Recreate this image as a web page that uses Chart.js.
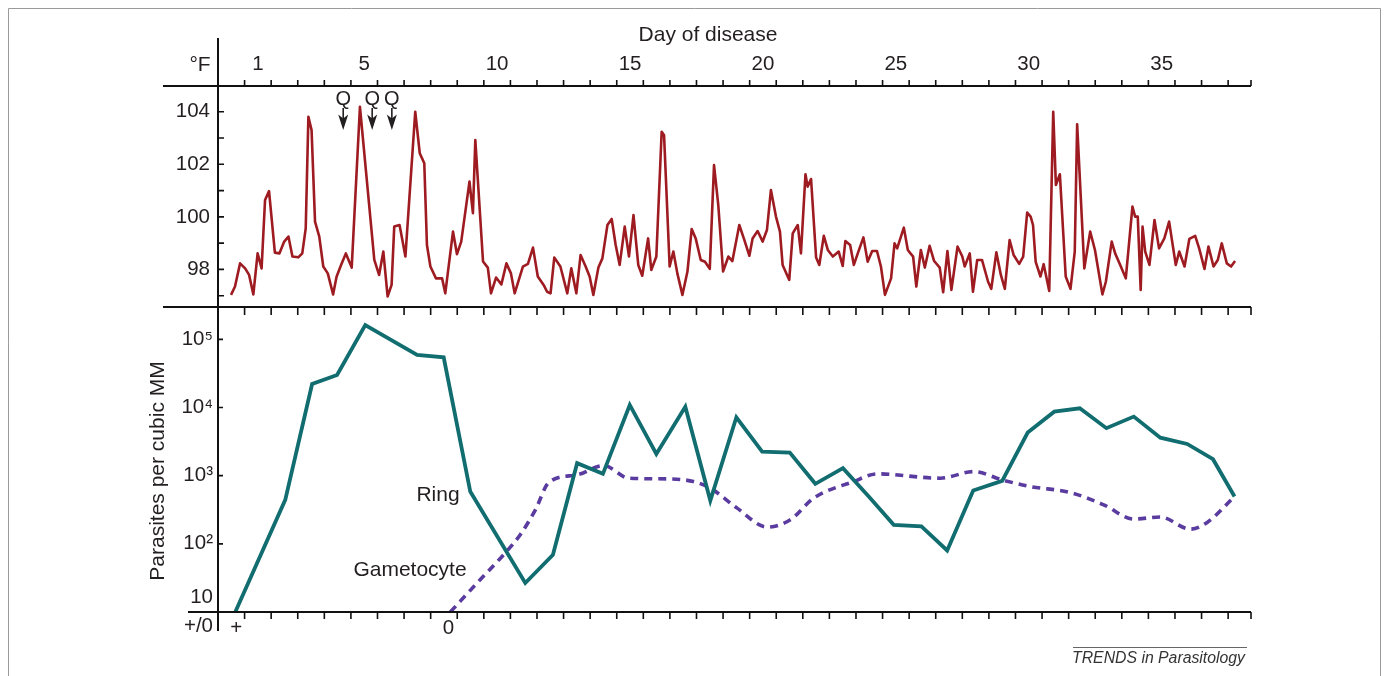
<!DOCTYPE html>
<html>
<head>
<meta charset="utf-8">
<script src="https://cdn.jsdelivr.net/npm/chart.js@4.4.1/dist/chart.umd.min.js"></script>
<style>
  html, body { margin: 0; padding: 0; background: #fff; }
  canvas { display: block; }
</style>
</head>
<body>
<canvas id="chart" width="1389" height="676"></canvas>
<script>
// x values are in "day units" from the y axis: day d is centred on d + 0.5
const dayLabels = [1, 5, 10, 15, 20, 25, 30, 35];
const tempTicks = [98, 100, 102, 104];
const parasiteTicks = [10, 100, 1000, 10000, 100000];
const parasiteTickLabels = [["10", "+/0"], "10²", "10³", "10⁴", "10⁵"];
const quinineDays = [4.71, 5.8, 6.54];

const tempDays = [
  0.49, 0.64, 0.83, 1.02, 1.17, 1.33, 1.49, 1.64, 1.77, 1.92, 2.14, 2.31, 2.49, 2.65, 2.8, 3.02, 3.17, 3.3, 3.4, 3.52,
  3.65, 3.81, 3.96, 4.13, 4.33, 4.46, 4.63, 4.81, 5.03, 5.34, 5.88, 6.06, 6.22, 6.38, 6.53, 6.63, 6.83, 7.05, 7.42, 7.59,
  7.76, 7.86, 7.99, 8.2, 8.43, 8.55, 8.84, 8.99, 9.15, 9.46, 9.59, 9.68, 9.97, 10.15, 10.27, 10.46, 10.66, 10.85, 11.02, 11.16,
  11.47, 11.66, 11.85, 12.03, 12.25, 12.38, 12.51, 12.65, 12.88, 13.14, 13.29, 13.48, 13.64, 13.83, 13.98, 14.12, 14.31, 14.46, 14.65, 14.81,
  14.96, 15.11, 15.3, 15.46, 15.63, 15.81, 15.96, 16.18, 16.3, 16.49, 16.69, 16.78, 16.99, 17.13, 17.28, 17.47, 17.66, 17.82, 17.97, 18.16,
  18.32, 18.5, 18.66, 18.82, 19.0, 19.2, 19.35, 19.61, 19.78, 19.99, 20.11, 20.3, 20.49, 20.65, 20.8, 20.99, 21.14, 21.24, 21.49, 21.62,
  21.81, 21.93, 22.1, 22.18, 22.31, 22.5, 22.62, 22.79, 22.94, 23.13, 23.35, 23.5, 23.6, 23.78, 23.92, 24.09, 24.28, 24.44, 24.61, 24.79,
  24.94, 25.09, 25.32, 25.45, 25.55, 25.8, 25.95, 26.05, 26.15, 26.27, 26.44, 26.59, 26.77, 26.94, 27.15, 27.28, 27.44, 27.59, 27.82, 28.0,
  28.09, 28.28, 28.4, 28.56, 28.74, 28.97, 29.09, 29.28, 29.45, 29.6, 29.78, 29.93, 30.14, 30.29, 30.44, 30.57, 30.66, 30.76, 30.94, 31.06,
  31.27, 31.42, 31.52, 31.67, 31.89, 32.07, 32.23, 32.32, 32.59, 32.81, 32.99, 33.27, 33.4, 33.62, 33.75, 33.94, 34.15, 34.4, 34.5, 34.6,
  34.71, 34.78, 34.88, 35.04, 35.23, 35.4, 35.6, 35.78, 36.03, 36.16, 36.36, 36.54, 36.76, 36.91, 37.11, 37.26, 37.45, 37.61, 37.76, 37.95,
  38.11, 38.26
];
const tempF = [
  97.03, 97.35, 98.23, 98.04, 97.79, 97.05, 98.61, 98.04, 100.64, 100.98, 98.64, 98.61, 99.06, 99.25, 98.49, 98.46, 98.61, 99.56, 103.81, 103.3,
  99.82, 99.25, 98.11, 97.85, 97.05, 97.72, 98.17, 98.61, 98.07, 104.19, 98.36, 97.79, 98.68, 96.97, 97.41, 99.63, 99.69, 98.49, 104.0, 102.42,
  102.04, 98.93, 98.11, 97.66, 97.66, 97.09, 99.44, 98.58, 99.06, 101.34, 100.14, 102.92, 98.3, 98.07, 97.09, 97.69, 97.43, 98.23, 97.85, 97.09,
  98.11, 98.21, 98.83, 97.73, 97.41, 97.15, 97.09, 98.45, 98.11, 97.09, 98.04, 97.09, 98.55, 98.11, 97.73, 97.03, 98.07, 98.42, 99.69, 99.92,
  98.93, 98.17, 99.63, 98.49, 100.07, 98.17, 97.76, 99.18, 97.98, 98.49, 103.24, 103.11, 98.11, 98.68, 97.85, 97.03, 97.92, 99.54, 99.18, 98.36,
  98.29, 98.02, 101.97, 100.45, 97.92, 98.49, 98.32, 99.69, 99.18, 98.52, 99.18, 99.46, 99.06, 99.5, 101.02, 100.01, 99.44, 98.17, 97.6, 99.37,
  99.69, 98.61, 101.62, 101.15, 101.44, 98.45, 98.17, 99.28, 98.74, 98.49, 98.68, 98.13, 99.08, 98.93, 98.17, 98.68, 99.22, 98.29, 98.7, 98.7,
  98.1, 97.03, 97.66, 98.99, 98.8, 99.59, 98.74, 98.61, 98.49, 97.35, 98.74, 98.07, 98.9, 98.32, 98.07, 97.13, 98.7, 97.22, 98.87, 98.49,
  98.11, 98.61, 97.15, 98.36, 98.36, 97.53, 97.26, 98.65, 97.79, 97.26, 99.12, 98.55, 98.21, 98.49, 100.16, 100.01, 99.69, 98.29, 97.73, 98.2,
  97.18, 104.0, 101.21, 101.62, 97.73, 97.26, 98.68, 103.52, 98.04, 99.44, 98.74, 97.05, 97.53, 99.06, 98.61, 98.17, 97.66, 100.39, 100.01, 100.01,
  97.22, 99.63, 98.68, 98.17, 99.88, 98.8, 99.18, 99.82, 98.17, 98.68, 98.11, 99.16, 99.28, 98.8, 98.02, 98.87, 98.11, 98.36, 98.99, 98.23,
  98.11, 98.32
];

const ringDays = [0.65, 2.53, 3.54, 4.48, 5.54, 7.49, 8.49, 9.49, 11.56, 12.6, 13.51, 14.48, 15.49, 16.49, 17.58, 18.52, 19.5, 20.47,
  21.51, 22.47, 23.51, 24.48, 25.42, 26.46, 27.43, 28.41, 29.5, 30.46, 31.46, 32.42, 33.42, 34.45, 35.45, 36.46, 37.43, 38.24];
const ringCounts = [10, 442, 22100, 30000, 162000, 58900, 54500, 585, 26.6, 69, 1524, 1063, 10900, 2084, 10280, 431, 7190, 2254,
  2180, 759, 1288, 494, 190, 180, 80, 605, 840, 4290, 8690, 9750, 4970, 7350, 3610, 2920, 1745, 494];

const gamDays = [8.74, 9.87, 10.81, 11.37, 11.94, 12.45, 13.51, 14.51, 15.45, 16.89, 17.89, 18.52, 19.53, 20.66, 21.53, 22.41,
  23.91, 24.79, 27.17, 28.43, 29.5, 30.56, 32.07, 33.32, 34.45, 35.45, 36.58, 37.21, 38.24];
const gamCounts = [10, 30, 74, 136, 315, 800, 1028, 1406, 918, 897, 820, 656, 334, 176, 225, 468,
  820, 1063, 918, 1148, 867, 692, 565, 373, 231, 247, 164, 206, 494];

const FONT = '"Liberation Sans", Arial, Helvetica, sans-serif';
const INK = "#231f20";
Chart.defaults.font.family = FONT;
Chart.defaults.color = INK;

const toPoints = (xs, ys) => xs.map((x, i) => ({ x: x, y: ys[i] }));

// axis lines, tick marks, arrows and the free text of the figure
const decor = {
  id: "decor",
  afterDraw(chart) {
    const { ctx } = chart;
    const x = chart.scales.x;
    const yT = chart.scales.yT;
    const yP = chart.scales.yP;
    const left = chart.chartArea.left;
    const right = chart.chartArea.right;
    const top = yT.top;
    const mid = yT.bottom;
    const bottom = yP.bottom;

    ctx.save();
    ctx.strokeStyle = "#111";
    ctx.lineWidth = 2;
    ctx.beginPath();
    ctx.moveTo(163, top); ctx.lineTo(right, top);
    ctx.moveTo(163, mid); ctx.lineTo(right, mid);
    ctx.moveTo(188, bottom); ctx.lineTo(right, bottom);
    ctx.moveTo(left, 38); ctx.lineTo(left, 631);
    ctx.stroke();

    ctx.lineWidth = 1.6;
    ctx.beginPath();
    const marks = [];
    for (let k = 1; k <= Math.floor(x.max); k++) marks.push(x.getPixelForValue(k));
    marks.push(right);
    marks.forEach((px) => {
      ctx.moveTo(px, top); ctx.lineTo(px, top - 6);
      ctx.moveTo(px, mid); ctx.lineTo(px, mid + 8);
      ctx.moveTo(px, bottom); ctx.lineTo(px, bottom + 7);
    });
    for (let t = 97; t <= 104; t++) {
      const py = yT.getPixelForValue(t);
      ctx.moveTo(left, py); ctx.lineTo(left + 6, py);
    }
    parasiteTicks.slice(1).forEach((v) => {
      const py = yP.getPixelForValue(v);
      ctx.moveTo(left, py); ctx.lineTo(left + 5, py);
    });
    ctx.stroke();

    // quinine arrows
    ctx.fillStyle = INK;
    ctx.strokeStyle = INK;
    ctx.font = "20px " + FONT;
    ctx.textAlign = "center";
    ctx.textBaseline = "middle";
    quinineDays.forEach((d) => {
      const px = x.getPixelForValue(d);
      ctx.fillText("Q", px, 99);
      ctx.lineWidth = 1.6;
      ctx.beginPath();
      ctx.moveTo(px, 108); ctx.lineTo(px, 121);
      ctx.stroke();
      ctx.beginPath();
      ctx.moveTo(px, 130);
      ctx.lineTo(px - 5, 114.5);
      ctx.lineTo(px, 118.5);
      ctx.lineTo(px + 5, 114.5);
      ctx.closePath();
      ctx.fill();
    });

    ctx.font = "21px " + FONT;
    ctx.fillText("°F", 200, 65);
    ctx.fillText("Day of disease", 708, 35);
    ctx.fillText("Ring", 438, 495);
    ctx.fillText("Gametocyte", 410, 570);
    ctx.font = "20.5px " + FONT;
    ctx.fillText("+", x.getPixelForValue(ringDays[0]) + 1, 628);
    ctx.fillText("0", x.getPixelForValue(gamDays[0]) - 2, 628);

    ctx.save();
    ctx.font = "21px " + FONT;
    ctx.translate(158, 471);
    ctx.rotate(-Math.PI / 2);
    ctx.fillText("Parasites per cubic MM", 0, 0);
    ctx.restore();

    ctx.strokeStyle = "#666";
    ctx.lineWidth = 1;
    ctx.beginPath();
    ctx.moveTo(1073, 647.5); ctx.lineTo(1247, 647.5);
    ctx.stroke();
    ctx.fillStyle = "#333";
    ctx.font = "italic 15.8px " + FONT;
    ctx.textAlign = "right";
    ctx.fillText("TRENDS in Parasitology", 1245, 659);

    // figure frame
    ctx.strokeStyle = "#9a9a9a";
    ctx.beginPath();
    ctx.moveTo(8.5, 676); ctx.lineTo(8.5, 8.5); ctx.lineTo(1380.5, 8.5); ctx.lineTo(1380.5, 676);
    ctx.stroke();
    ctx.restore();
  },
};

new Chart(document.getElementById("chart"), {
  type: "line",
  data: {
    datasets: [
      {
        label: "Temperature",
        data: toPoints(tempDays, tempF),
        yAxisID: "yT",
        borderColor: "#9d1b21",
        borderWidth: 2.6,
        borderJoinStyle: "round",
        pointRadius: 0,
        tension: 0,
      },
      {
        label: "Ring",
        data: toPoints(ringDays, ringCounts),
        yAxisID: "yP",
        borderColor: "#116d6f",
        borderWidth: 3.8,
        borderJoinStyle: "miter",
        pointRadius: 0,
        tension: 0,
      },
      {
        label: "Gametocyte",
        data: toPoints(gamDays, gamCounts),
        yAxisID: "yP",
        borderColor: "#5a3b9f",
        borderWidth: 3.6,
        borderDash: [8, 6],
        pointRadius: 0,
        cubicInterpolationMode: "monotone",
      },
    ],
  },
  options: {
    responsive: false,
    animation: false,
    layout: { padding: { left: 0, top: 0, right: 138, bottom: 64 } },
    plugins: { legend: { display: false }, tooltip: { enabled: false } },
    scales: {
      x: {
        type: "linear",
        position: "top",
        min: 0,
        max: 38.86,
        grid: { display: false, drawTicks: false },
        border: { display: false },
        afterBuildTicks: (s) => { s.ticks = dayLabels.map((d) => ({ value: d + 0.5 })); },
        afterFit: (s) => { s.height = 86; },
        ticks: {
          autoSkip: false,
          maxRotation: 0,
          padding: 9,
          font: { size: 20.5 },
          callback: (v) => String(v - 0.5),
        },
      },
      yP: {
        type: "logarithmic",
        position: "left",
        stack: "panels",
        stackWeight: 305,
        min: 10,
        max: 298000,
        grid: { display: false, drawTicks: false },
        border: { display: false },
        afterBuildTicks: (s) => { s.ticks = parasiteTicks.map((v) => ({ value: v })); },
        afterFit: (s) => { s.width = 218; },
        ticks: {
          autoSkip: false,
          padding: 5,
          font: { size: 20.5, lineHeight: 1.4 },
          callback: (v) => parasiteTickLabels[parasiteTicks.indexOf(v)],
        },
      },
      yT: {
        type: "linear",
        position: "left",
        stack: "panels",
        stackWeight: 221,
        min: 96.57,
        max: 104.98,
        grid: { display: false, drawTicks: false },
        border: { display: false },
        afterBuildTicks: (s) => { s.ticks = tempTicks.map((v) => ({ value: v })); },
        afterFit: (s) => { s.width = 218; },
        ticks: {
          autoSkip: false,
          padding: 8,
          font: { size: 20.5 },
          callback: (v) => String(v),
        },
      },
    },
  },
  plugins: [decor],
});
</script>
</body>
</html>
